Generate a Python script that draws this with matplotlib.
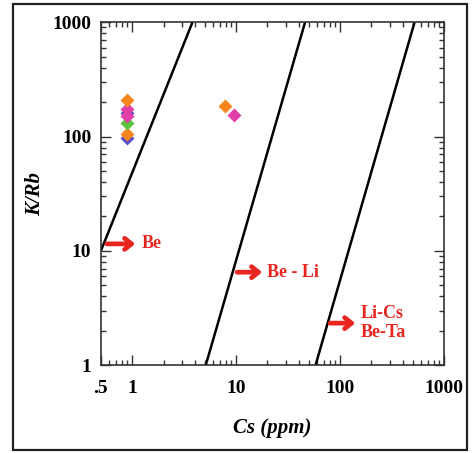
import matplotlib.pyplot as plt
from matplotlib.patches import Rectangle
from matplotlib.ticker import FixedLocator, LogLocator, NullFormatter

# sample points (Cs ppm, K/Rb)
cs_vals = [0.9, 0.9, 0.9, 0.9, 0.9, 0.9, 0.9, 7.8, 9.6]
krb_vals = [210, 175, 160, 150, 130, 106, 97, 185, 155]
pt_colors = ["#F7861E", "#E23EA8", "#5B4FC9", "#E23EA8", "#5CC341",
             "#F7861E", "#5B4FC9", "#F7861E", "#E23EA8"]
# draw order so the small purple ones sit behind
pt_order = [6, 5, 4, 2, 3, 1, 0, 7, 8]

# field boundary lines
line_x = [[0.5, 3.8], [5.1, 46], [58, 520]]
line_y = [[10, 1000], [1, 1000], [1, 1000]]

# field labels: text, arrow tail, arrow head, text position
field_names = ["Be", "Be - Li", "Li-Cs\nBe-Ta"]
arrow_tail = [(0.57, 11.5), (10.2, 6.5), (80, 2.33)]
arrow_head = [(1.07, 11.5), (17.8, 6.5), (140, 2.33)]
text_pos = [(1.22, 11.5), (20.0, 6.5), (156, 2.33)]

xticks = [0.5, 1, 10, 100, 1000]
xticklabels = [".5", "1", "10", "100", "1000"]
yticks = [1, 10, 100, 1000]
yticklabels = ["1", "10", "100", "1000"]

plt.rcParams["font.family"] = ["Liberation Serif", "DejaVu Serif"]

fig = plt.figure(figsize=(4.76, 4.53), dpi=100)
ax = fig.add_axes([0.212, 0.194, 0.721, 0.757])

for xs, ys in zip(line_x, line_y):
    ax.plot(xs, ys, color="black", lw=1.8, solid_capstyle="butt")

for i in pt_order:
    ax.plot(cs_vals[i], krb_vals[i], marker="D", ms=7.2, color=pt_colors[i],
            mec="none", ls="none")

red = "#E8251F"
for name, tail, head, tp in zip(field_names, arrow_tail, arrow_head, text_pos):
    ax.annotate("", xy=head, xytext=tail,
                arrowprops=dict(arrowstyle="->, head_length=0.5, head_width=0.4",
                                color=red, lw=3.4, shrinkA=0, shrinkB=0))
    ax.text(tp[0], tp[1], name, color=red, fontsize=13, fontweight="bold",
            ha="left", va="center", linespacing=1.15)

ax.set_xscale("log")
ax.set_yscale("log")
ax.set_xlim(0.5, 1000)
ax.set_ylim(1, 1000)

ax.xaxis.set_major_locator(FixedLocator(xticks))
ax.set_xticklabels(xticklabels)
ax.yaxis.set_major_locator(FixedLocator(yticks))
ax.set_yticklabels(yticklabels)
ax.xaxis.set_minor_locator(LogLocator(base=10, subs=range(2, 10), numticks=20))
ax.yaxis.set_minor_locator(LogLocator(base=10, subs=range(2, 10), numticks=20))
ax.xaxis.set_minor_formatter(NullFormatter())
ax.yaxis.set_minor_formatter(NullFormatter())

ax.tick_params(which="both", direction="in", top=True, right=True, width=1,
               colors="#333333", labelcolor="black")
ax.tick_params(which="major", length=7)
ax.tick_params(which="minor", length=3.5)
ax.tick_params(axis="x", which="major", pad=11, labelsize=14)
ax.tick_params(axis="y", which="major", pad=7, labelsize=14)
for lab in ax.get_xticklabels() + ax.get_yticklabels():
    lab.set_fontweight("bold")
for sp in ax.spines.values():
    sp.set_linewidth(1.2)
    sp.set_color("#333333")

ax.set_xlabel("Cs (ppm)", fontsize=15, fontweight="bold", style="italic", labelpad=15)
ax.set_ylabel("K/Rb", fontsize=15, fontweight="bold", style="italic", labelpad=5)

# outer frame around the whole figure
fig.patches.append(Rectangle((13 / 476, 1 - 450 / 453), 454 / 476, 446 / 453,
                             transform=fig.transFigure, fill=False,
                             edgecolor="#222222", lw=1.6))

fig.savefig("out.png", dpi=100)
